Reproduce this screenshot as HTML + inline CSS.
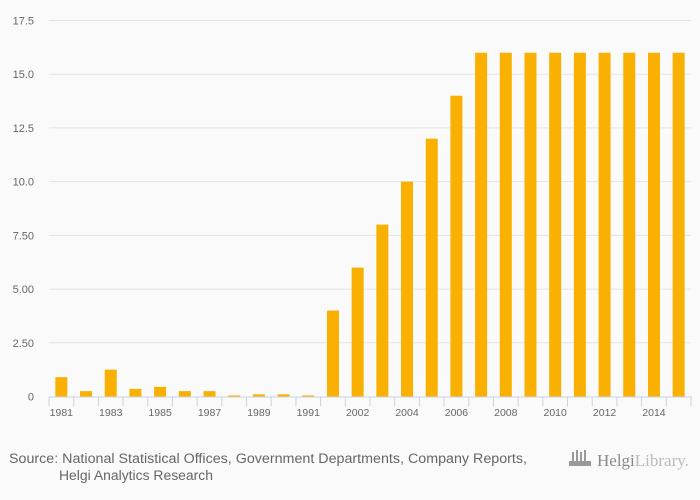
<!DOCTYPE html>
<html><head><meta charset="utf-8"><style>
body{margin:0;background:#fafafa;font-family:"Liberation Sans","DejaVu Sans",sans-serif}
svg{display:block}
</style></head><body>
<svg width="700" height="500">
<rect width="700" height="500" fill="#fafafa"/>
<g id="grid"></g><g id="bars"></g><g id="xaxis"></g>
<text x="9" y="463" font-size="13.5" fill="#666" textLength="518" lengthAdjust="spacingAndGlyphs">Source: National Statistical Offices, Government Departments, Company Reports,</text>
<text x="59" y="480" font-size="13.5" fill="#666" textLength="154" lengthAdjust="spacingAndGlyphs">Helgi Analytics Research</text>
<g>
<g fill="#999"><rect x="572" y="452" width="2" height="10"/><rect x="576" y="450" width="2" height="12"/><rect x="580" y="452" width="2" height="10"/><rect x="584" y="450" width="2" height="12"/><rect x="569" y="461" width="22" height="5"/></g>
<text x="597" y="466" font-size="17" fill="#888" font-family="Liberation Serif, serif">Helgi<tspan fill="#bbb">Library.</tspan></text>
</g>
</svg>
<script>
const categories=["1981","1982","1983","1984","1985","1986","1987","1988","1989","1990","1991","2001","2002","2003","2004","2005","2006","2007","2008","2009","2010","2011","2012","2013","2014","2015"];
const values=[0.9,0.25,1.25,0.35,0.45,0.25,0.25,0.05,0.1,0.1,0.05,4,6,8,10,12,14,16,16,16,16,16,16,16,16,16];
const yTicks=[0,2.5,5,7.5,10,12.5,15,17.5];
const yTickLabels=["0","2.50","5.00","7.50","10.0","12.5","15.0","17.5"];
const NS="http://www.w3.org/2000/svg";
const x0=49,x1=691,y0=396.5,yTop=20.5,yMax=17.5;
const step=(x1-x0)/categories.length;
const y=v=>y0-(v/yMax)*(y0-yTop);
const xc=i=>x0+step*(i+0.5);
function mk(tag,attrs,parent){const e=document.createElementNS(NS,tag);for(const k in attrs)e.setAttribute(k,attrs[k]);parent.appendChild(e);return e;}
const grid=document.getElementById('grid'),bars=document.getElementById('bars'),xa=document.getElementById('xaxis');
yTicks.forEach((t,i)=>{
 if(t>0){const l=mk('line',{x1:x0,x2:x1,y1:y(t),y2:y(t),stroke:'#e3e3e3','stroke-width':1},grid);
 
 }
 const tx=mk('text',{x:34,y:y(t)+4,'font-size':11,fill:'#666','text-anchor':'end'},grid);
 tx.textContent=yTickLabels[i];
 
 
});
values.forEach((v,i)=>{
 const w=12;
 const r=mk('rect',{x:xc(i)-w/2,y:y(v),width:w,height:y0-y(v),fill:'#f9b000'},bars);
 
 
});
const ax=mk('line',{x1:x0,x2:x1,y1:y0+0.5,y2:y0+0.5,stroke:'#c8d4e8','stroke-width':1},xa);


for(let i=0;i<=categories.length;i++){
 const tk=mk('line',{x1:x0+step*i,x2:x0+step*i,y1:y0,y2:y0+10,stroke:'#c8d4e8','stroke-width':1},xa);
 
 
}
categories.forEach((c,i)=>{
 if(i%2)return;
 const t=mk('text',{x:xc(i),y:416,'font-size':10.5,fill:'#666','text-anchor':'middle'},xa);
 t.textContent=c;
 
 
});
</script>
</body></html>
